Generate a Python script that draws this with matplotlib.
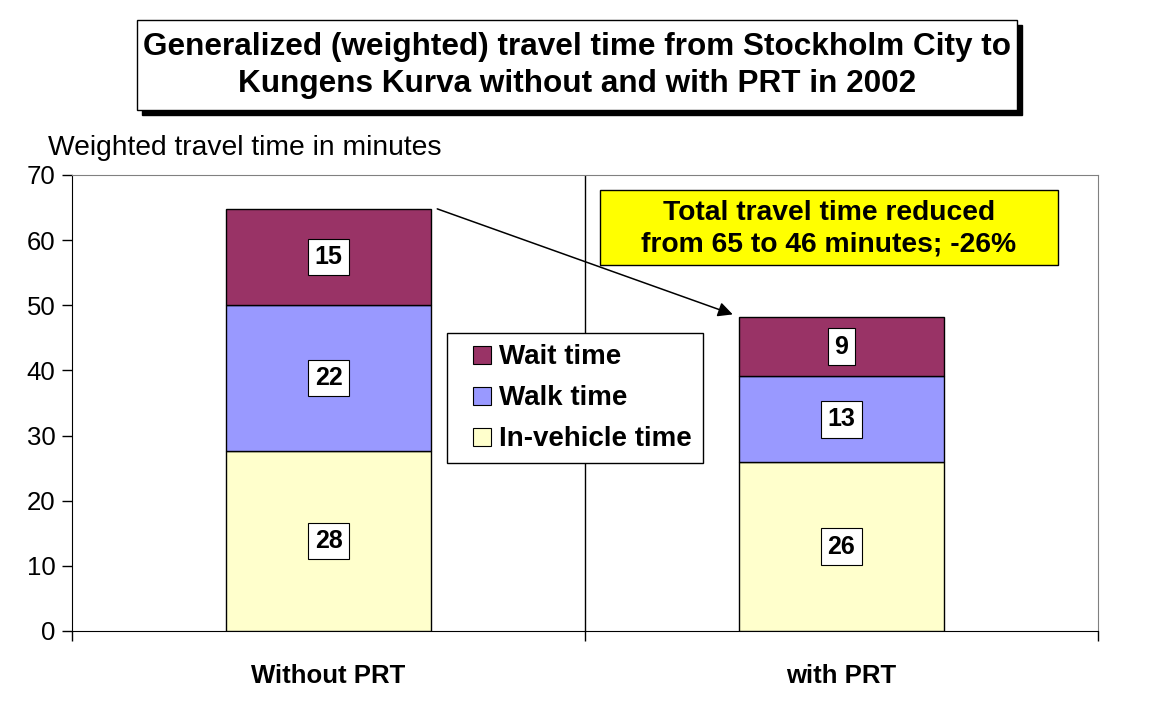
import matplotlib
matplotlib.use("Agg")
import matplotlib.pyplot as plt
from matplotlib.patches import Rectangle
from matplotlib.legend_handler import HandlerPatch

categories = ["Without PRT", "with PRT"]
series_names = ["In-vehicle time", "Walk time", "Wait time"]
in_vehicle = [27.6, 25.9]
walk = [22.4, 13.2]
wait = [14.8, 9.1]
labels_in_vehicle = ["28", "26"]
labels_walk = ["22", "13"]
labels_wait = ["15", "9"]
colors = ["#FFFFCC", "#9999FF", "#993366"]
yticks = [0, 10, 20, 30, 40, 50, 60, 70]

plt.rcParams['font.family'] = ['Liberation Sans', 'DejaVu Sans']

W, H = 1153, 712
fig = plt.figure(figsize=(W / 100, H / 100), dpi=100)

def fx(px):
    return px / W

def fy(py):
    return 1 - py / H

AX_L, AX_R, AX_T, AX_B = 72, 1098, 175, 631
ax = fig.add_axes([fx(AX_L), fy(AX_B), fx(AX_R) - fx(AX_L), fy(AX_T) - fy(AX_B)])
ax.set_xlim(0, 2)
ax.set_ylim(0, 70)
xpos = [0.5 + i for i in range(len(categories))]
width = 0.4

def ax_x(px):
    return (px - AX_L) / (AX_R - AX_L)

def ax_y(py):
    return (AX_B - py) / (AX_B - AX_T)

series = [in_vehicle, walk, wait]
series_labels = [labels_in_vehicle, labels_walk, labels_wait]
bottoms = [0.0] * len(categories)
for vals, lbls, col, name in zip(series, series_labels, colors, series_names):
    ax.bar(xpos, vals, width, bottom=bottoms, color=col,
           edgecolor="black", linewidth=1.0, label=name, zorder=3)
    for x, v, b, l in zip(xpos, vals, bottoms, lbls):
        ax.text(x, b + v / 2, l, ha="center", va="center", fontsize=18,
                fontweight="bold", zorder=5,
                bbox=dict(boxstyle="square,pad=0.25", fc="white", ec="black", lw=0.8))
    bottoms = [b + v for b, v in zip(bottoms, vals)]

# category separator
ax.axvline(1, color="black", lw=1.0, zorder=1)

ax.set_yticks(yticks)
ax.set_yticklabels([str(t) for t in yticks], fontsize=18.5)
ax.set_xticks([0, 1, 2])
ax.set_xticklabels([])
ax.set_xticks(xpos, minor=True)
ax.set_xticklabels(categories, minor=True, fontsize=18.5, fontweight="bold")
ax.tick_params(axis="x", which="minor", length=0, pad=24)
ax.tick_params(axis="x", which="major", length=7, direction="out", width=1)
ax.tick_params(axis="y", length=7, direction="out", width=1, pad=5)
for s in ["top", "right"]:
    ax.spines[s].set_color("#808080")
for s in ["left", "bottom"]:
    ax.spines[s].set_color("black")

fig.text(fx(48), fy(148), "Weighted travel time in minutes", fontsize=20.3,
         ha="left", va="center")

# legend with small square swatches offset to the right inside the handle box
def square_patch(legend, orig_handle, xdescent, ydescent, width, height, fontsize):
    side = 13
    return Rectangle((width - side - xdescent, (height - side) / 2 - ydescent - 0.5), side, side)

proxies = [Rectangle((0, 0), 1, 1, fc=colors[i], ec="black", lw=0.8) for i in (2, 1, 0)]
leg = ax.legend(proxies, [series_names[2], series_names[1], series_names[0]],
                loc="upper left", bbox_to_anchor=(ax_x(447), ax_y(333)),
                bbox_transform=ax.transAxes, fancybox=False, framealpha=1,
                edgecolor="black", prop=dict(size=20, weight="bold"),
                handlelength=1.2, handleheight=0.75, handletextpad=0.3,
                labelspacing=0.55, borderpad=0.38, borderaxespad=0,
                handler_map={Rectangle: HandlerPatch(patch_func=square_patch)})
leg.get_frame().set_linewidth(1.0)
leg.set_zorder(6)

# annotation box
bx0, by0, bx1, by1 = 600, 190, 1058, 265
ax.add_patch(Rectangle((ax_x(bx0), ax_y(by1)), ax_x(bx1) - ax_x(bx0), ax_y(by0) - ax_y(by1),
                       transform=ax.transAxes, fc="#FFFF00", ec="black", lw=1.0, zorder=6))
ax.text(ax_x((bx0 + bx1) / 2), ax_y((by0 + by1) / 2 + 1),
        "Total travel time reduced\nfrom 65 to 46 minutes; -26%",
        transform=ax.transAxes, ha="center", va="center", fontsize=20.3,
        fontweight="bold", linespacing=1.3, zorder=7)

# arrow
totals = [a + b + c for a, b, c in zip(in_vehicle, walk, wait)]
ax.annotate("", xy=(xpos[1] - width / 2 - 0.012, totals[1] + 0.4),
            xytext=(xpos[0] + width / 2 + 0.012, totals[0]),
            arrowprops=dict(arrowstyle="-|>", color="black", lw=1.1,
                            mutation_scale=22, shrinkA=0, shrinkB=0), zorder=6)

# title box with shadow
x0, y0, x1, y1 = 137, 20, 1017, 110
fig.patches.append(Rectangle((fx(x0 + 5), fy(y1 + 5)), fx(x1) - fx(x0), fy(y0) - fy(y1),
                             transform=fig.transFigure, fc="black", ec="black", zorder=1))
fig.patches.append(Rectangle((fx(x0), fy(y1)), fx(x1) - fx(x0), fy(y0) - fy(y1),
                             transform=fig.transFigure, fc="white", ec="black", lw=1.0, zorder=2))
fig.text(fx(577), fy(47), "Generalized (weighted) travel time from Stockholm City to",
         ha="center", va="center", fontsize=22.7, fontweight="bold", zorder=3)
fig.text(fx(577), fy(84), "Kungens Kurva without and with PRT in 2002",
         ha="center", va="center", fontsize=22.7, fontweight="bold", zorder=3)

fig.savefig("out.png", dpi=100)
